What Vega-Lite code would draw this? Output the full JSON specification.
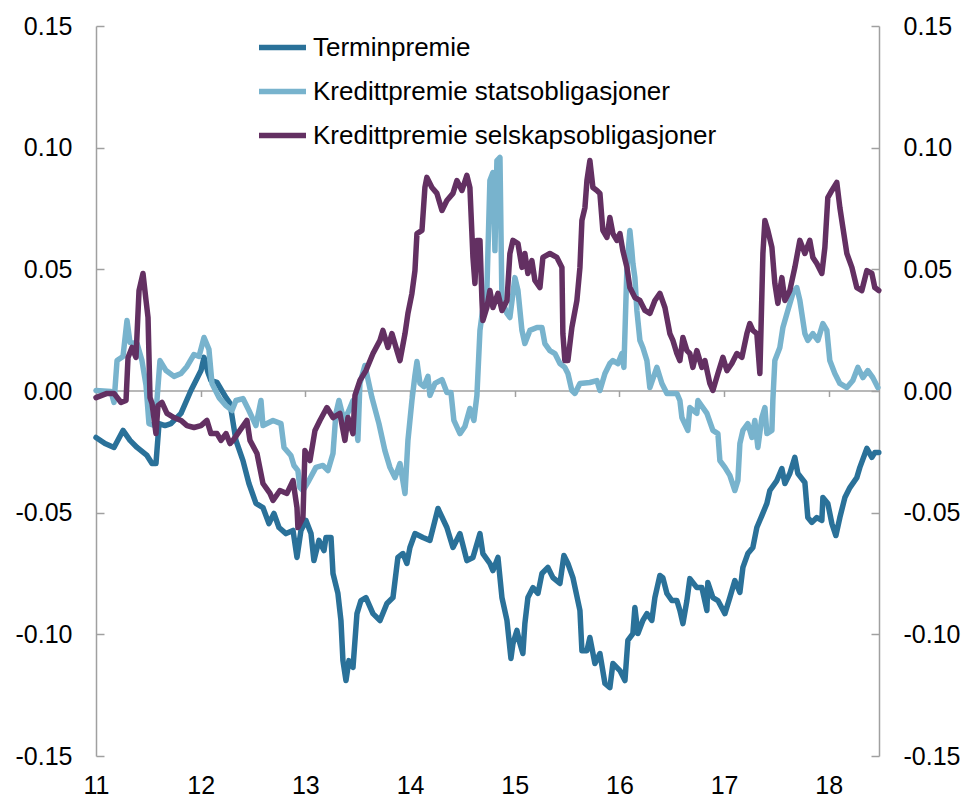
{
  "$schema": "https://vega.github.io/schema/vega-lite/v6.json",
  "width": 783,
  "height": 730,
  "autosize": {"type": "none"},
  "padding": {"left": 96, "top": 26, "right": 89, "bottom": 42},
  "background": "white",
  "config": {
    "font": "Liberation Sans",
    "view": {"stroke": null},
    "locale": {"number": {"decimal": ".", "thousands": ",", "grouping": [3], "currency": ["", ""], "minus": "-"}},
    "axis": {"grid": false, "labelFont": "Liberation Sans", "labelFontSize": 25, "labelColor": "#000000", "domainColor": "#a0a0a0", "tickColor": "#a0a0a0", "domainWidth": 1.5, "tickWidth": 1.5, "title": null},
    "legend": {"rowPadding": 4}
  },
  "data": {"values": [
    {"serie":"Terminpremie","t":11.000,"v":-0.0191},
    {"serie":"Terminpremie","t":11.086,"v":-0.0216},
    {"serie":"Terminpremie","t":11.172,"v":-0.0232},
    {"serie":"Terminpremie","t":11.258,"v":-0.0162},
    {"serie":"Terminpremie","t":11.325,"v":-0.0203},
    {"serie":"Terminpremie","t":11.392,"v":-0.0232},
    {"serie":"Terminpremie","t":11.487,"v":-0.0265},
    {"serie":"Terminpremie","t":11.535,"v":-0.0298},
    {"serie":"Terminpremie","t":11.573,"v":-0.0298},
    {"serie":"Terminpremie","t":11.602,"v":-0.0134},
    {"serie":"Terminpremie","t":11.659,"v":-0.0142},
    {"serie":"Terminpremie","t":11.716,"v":-0.0134},
    {"serie":"Terminpremie","t":11.812,"v":-0.0092},
    {"serie":"Terminpremie","t":11.907,"v":0.0002},
    {"serie":"Terminpremie","t":12.003,"v":0.0084},
    {"serie":"Terminpremie","t":12.032,"v":0.0138},
    {"serie":"Terminpremie","t":12.070,"v":0.0076},
    {"serie":"Terminpremie","t":12.098,"v":0.0043},
    {"serie":"Terminpremie","t":12.156,"v":0.0035},
    {"serie":"Terminpremie","t":12.242,"v":-0.0027},
    {"serie":"Terminpremie","t":12.280,"v":-0.0051},
    {"serie":"Terminpremie","t":12.337,"v":-0.0203},
    {"serie":"Terminpremie","t":12.404,"v":-0.0286},
    {"serie":"Terminpremie","t":12.461,"v":-0.0380},
    {"serie":"Terminpremie","t":12.528,"v":-0.0462},
    {"serie":"Terminpremie","t":12.595,"v":-0.0479},
    {"serie":"Terminpremie","t":12.652,"v":-0.0545},
    {"serie":"Terminpremie","t":12.700,"v":-0.0503},
    {"serie":"Terminpremie","t":12.748,"v":-0.0561},
    {"serie":"Terminpremie","t":12.815,"v":-0.0586},
    {"serie":"Terminpremie","t":12.882,"v":-0.0573},
    {"serie":"Terminpremie","t":12.920,"v":-0.0684},
    {"serie":"Terminpremie","t":12.958,"v":-0.0573},
    {"serie":"Terminpremie","t":13.006,"v":-0.0532},
    {"serie":"Terminpremie","t":13.054,"v":-0.0586},
    {"serie":"Terminpremie","t":13.082,"v":-0.0697},
    {"serie":"Terminpremie","t":13.130,"v":-0.0614},
    {"serie":"Terminpremie","t":13.178,"v":-0.0656},
    {"serie":"Terminpremie","t":13.197,"v":-0.0602},
    {"serie":"Terminpremie","t":13.245,"v":-0.0602},
    {"serie":"Terminpremie","t":13.264,"v":-0.0750},
    {"serie":"Terminpremie","t":13.311,"v":-0.0832},
    {"serie":"Terminpremie","t":13.340,"v":-0.0943},
    {"serie":"Terminpremie","t":13.359,"v":-0.1108},
    {"serie":"Terminpremie","t":13.388,"v":-0.1190},
    {"serie":"Terminpremie","t":13.416,"v":-0.1108},
    {"serie":"Terminpremie","t":13.455,"v":-0.1136},
    {"serie":"Terminpremie","t":13.493,"v":-0.0915},
    {"serie":"Terminpremie","t":13.531,"v":-0.0861},
    {"serie":"Terminpremie","t":13.579,"v":-0.0849},
    {"serie":"Terminpremie","t":13.646,"v":-0.0915},
    {"serie":"Terminpremie","t":13.713,"v":-0.0943},
    {"serie":"Terminpremie","t":13.779,"v":-0.0873},
    {"serie":"Terminpremie","t":13.837,"v":-0.0849},
    {"serie":"Terminpremie","t":13.884,"v":-0.0684},
    {"serie":"Terminpremie","t":13.932,"v":-0.0668},
    {"serie":"Terminpremie","t":13.970,"v":-0.0709},
    {"serie":"Terminpremie","t":13.999,"v":-0.0643},
    {"serie":"Terminpremie","t":14.047,"v":-0.0586},
    {"serie":"Terminpremie","t":14.123,"v":-0.0602},
    {"serie":"Terminpremie","t":14.190,"v":-0.0614},
    {"serie":"Terminpremie","t":14.267,"v":-0.0483},
    {"serie":"Terminpremie","t":14.352,"v":-0.0561},
    {"serie":"Terminpremie","t":14.410,"v":-0.0643},
    {"serie":"Terminpremie","t":14.477,"v":-0.0586},
    {"serie":"Terminpremie","t":14.543,"v":-0.0697},
    {"serie":"Terminpremie","t":14.601,"v":-0.0684},
    {"serie":"Terminpremie","t":14.668,"v":-0.0586},
    {"serie":"Terminpremie","t":14.696,"v":-0.0668},
    {"serie":"Terminpremie","t":14.763,"v":-0.0709},
    {"serie":"Terminpremie","t":14.792,"v":-0.0738},
    {"serie":"Terminpremie","t":14.840,"v":-0.0684},
    {"serie":"Terminpremie","t":14.878,"v":-0.0849},
    {"serie":"Terminpremie","t":14.926,"v":-0.0943},
    {"serie":"Terminpremie","t":14.964,"v":-0.1099},
    {"serie":"Terminpremie","t":14.983,"v":-0.1038},
    {"serie":"Terminpremie","t":15.021,"v":-0.0984},
    {"serie":"Terminpremie","t":15.050,"v":-0.1038},
    {"serie":"Terminpremie","t":15.078,"v":-0.1079},
    {"serie":"Terminpremie","t":15.097,"v":-0.0956},
    {"serie":"Terminpremie","t":15.126,"v":-0.0849},
    {"serie":"Terminpremie","t":15.174,"v":-0.0808},
    {"serie":"Terminpremie","t":15.222,"v":-0.0832},
    {"serie":"Terminpremie","t":15.260,"v":-0.0750},
    {"serie":"Terminpremie","t":15.317,"v":-0.0725},
    {"serie":"Terminpremie","t":15.365,"v":-0.0767},
    {"serie":"Terminpremie","t":15.432,"v":-0.0791},
    {"serie":"Terminpremie","t":15.470,"v":-0.0676},
    {"serie":"Terminpremie","t":15.508,"v":-0.0709},
    {"serie":"Terminpremie","t":15.556,"v":-0.0767},
    {"serie":"Terminpremie","t":15.623,"v":-0.0902},
    {"serie":"Terminpremie","t":15.642,"v":-0.1067},
    {"serie":"Terminpremie","t":15.690,"v":-0.1067},
    {"serie":"Terminpremie","t":15.718,"v":-0.1013},
    {"serie":"Terminpremie","t":15.766,"v":-0.1120},
    {"serie":"Terminpremie","t":15.814,"v":-0.1079},
    {"serie":"Terminpremie","t":15.862,"v":-0.1202},
    {"serie":"Terminpremie","t":15.909,"v":-0.1219},
    {"serie":"Terminpremie","t":15.938,"v":-0.1120},
    {"serie":"Terminpremie","t":16.005,"v":-0.1149},
    {"serie":"Terminpremie","t":16.053,"v":-0.1190},
    {"serie":"Terminpremie","t":16.081,"v":-0.1025},
    {"serie":"Terminpremie","t":16.129,"v":-0.0997},
    {"serie":"Terminpremie","t":16.148,"v":-0.0890},
    {"serie":"Terminpremie","t":16.177,"v":-0.0997},
    {"serie":"Terminpremie","t":16.224,"v":-0.0943},
    {"serie":"Terminpremie","t":16.263,"v":-0.0915},
    {"serie":"Terminpremie","t":16.310,"v":-0.0943},
    {"serie":"Terminpremie","t":16.339,"v":-0.0849},
    {"serie":"Terminpremie","t":16.387,"v":-0.0758},
    {"serie":"Terminpremie","t":16.415,"v":-0.0767},
    {"serie":"Terminpremie","t":16.454,"v":-0.0832},
    {"serie":"Terminpremie","t":16.501,"v":-0.0861},
    {"serie":"Terminpremie","t":16.549,"v":-0.0861},
    {"serie":"Terminpremie","t":16.578,"v":-0.0902},
    {"serie":"Terminpremie","t":16.607,"v":-0.0956},
    {"serie":"Terminpremie","t":16.645,"v":-0.0861},
    {"serie":"Terminpremie","t":16.673,"v":-0.0771},
    {"serie":"Terminpremie","t":16.740,"v":-0.0808},
    {"serie":"Terminpremie","t":16.788,"v":-0.0808},
    {"serie":"Terminpremie","t":16.836,"v":-0.0902},
    {"serie":"Terminpremie","t":16.845,"v":-0.0787},
    {"serie":"Terminpremie","t":16.893,"v":-0.0849},
    {"serie":"Terminpremie","t":16.941,"v":-0.0861},
    {"serie":"Terminpremie","t":17.008,"v":-0.0915},
    {"serie":"Terminpremie","t":17.055,"v":-0.0849},
    {"serie":"Terminpremie","t":17.103,"v":-0.0779},
    {"serie":"Terminpremie","t":17.151,"v":-0.0828},
    {"serie":"Terminpremie","t":17.180,"v":-0.0725},
    {"serie":"Terminpremie","t":17.227,"v":-0.0668},
    {"serie":"Terminpremie","t":17.275,"v":-0.0643},
    {"serie":"Terminpremie","t":17.313,"v":-0.0561},
    {"serie":"Terminpremie","t":17.361,"v":-0.0512},
    {"serie":"Terminpremie","t":17.409,"v":-0.0462},
    {"serie":"Terminpremie","t":17.437,"v":-0.0409},
    {"serie":"Terminpremie","t":17.504,"v":-0.0368},
    {"serie":"Terminpremie","t":17.552,"v":-0.0319},
    {"serie":"Terminpremie","t":17.581,"v":-0.0380},
    {"serie":"Terminpremie","t":17.628,"v":-0.0339},
    {"serie":"Terminpremie","t":17.676,"v":-0.0273},
    {"serie":"Terminpremie","t":17.705,"v":-0.0339},
    {"serie":"Terminpremie","t":17.772,"v":-0.0376},
    {"serie":"Terminpremie","t":17.800,"v":-0.0520},
    {"serie":"Terminpremie","t":17.839,"v":-0.0540},
    {"serie":"Terminpremie","t":17.886,"v":-0.0520},
    {"serie":"Terminpremie","t":17.934,"v":-0.0532},
    {"serie":"Terminpremie","t":17.944,"v":-0.0438},
    {"serie":"Terminpremie","t":17.991,"v":-0.0462},
    {"serie":"Terminpremie","t":18.030,"v":-0.0545},
    {"serie":"Terminpremie","t":18.068,"v":-0.0594},
    {"serie":"Terminpremie","t":18.106,"v":-0.0520},
    {"serie":"Terminpremie","t":18.154,"v":-0.0438},
    {"serie":"Terminpremie","t":18.202,"v":-0.0397},
    {"serie":"Terminpremie","t":18.268,"v":-0.0356},
    {"serie":"Terminpremie","t":18.297,"v":-0.0314},
    {"serie":"Terminpremie","t":18.364,"v":-0.0236},
    {"serie":"Terminpremie","t":18.412,"v":-0.0273},
    {"serie":"Terminpremie","t":18.440,"v":-0.0253},
    {"serie":"Terminpremie","t":18.478,"v":-0.0253},

    {"serie":"Kredittpremie statsobligasjoner","t":11.000,"v":0.0002},
    {"serie":"Kredittpremie statsobligasjoner","t":11.143,"v":-0.0002},
    {"serie":"Kredittpremie statsobligasjoner","t":11.172,"v":-0.0047},
    {"serie":"Kredittpremie statsobligasjoner","t":11.201,"v":0.0125},
    {"serie":"Kredittpremie statsobligasjoner","t":11.258,"v":0.0142},
    {"serie":"Kredittpremie statsobligasjoner","t":11.296,"v":0.0290},
    {"serie":"Kredittpremie statsobligasjoner","t":11.325,"v":0.0199},
    {"serie":"Kredittpremie statsobligasjoner","t":11.392,"v":0.0195},
    {"serie":"Kredittpremie statsobligasjoner","t":11.439,"v":0.0125},
    {"serie":"Kredittpremie statsobligasjoner","t":11.478,"v":0.0023},
    {"serie":"Kredittpremie statsobligasjoner","t":11.506,"v":-0.0134},
    {"serie":"Kredittpremie statsobligasjoner","t":11.564,"v":-0.0142},
    {"serie":"Kredittpremie statsobligasjoner","t":11.611,"v":0.0125},
    {"serie":"Kredittpremie statsobligasjoner","t":11.669,"v":0.0084},
    {"serie":"Kredittpremie statsobligasjoner","t":11.745,"v":0.0060},
    {"serie":"Kredittpremie statsobligasjoner","t":11.812,"v":0.0072},
    {"serie":"Kredittpremie statsobligasjoner","t":11.869,"v":0.0101},
    {"serie":"Kredittpremie statsobligasjoner","t":11.936,"v":0.0150},
    {"serie":"Kredittpremie statsobligasjoner","t":11.984,"v":0.0142},
    {"serie":"Kredittpremie statsobligasjoner","t":12.032,"v":0.0220},
    {"serie":"Kredittpremie statsobligasjoner","t":12.079,"v":0.0171},
    {"serie":"Kredittpremie statsobligasjoner","t":12.108,"v":0.0031},
    {"serie":"Kredittpremie statsobligasjoner","t":12.175,"v":-0.0027},
    {"serie":"Kredittpremie statsobligasjoner","t":12.242,"v":-0.0060},
    {"serie":"Kredittpremie statsobligasjoner","t":12.299,"v":-0.0080},
    {"serie":"Kredittpremie statsobligasjoner","t":12.337,"v":-0.0039},
    {"serie":"Kredittpremie statsobligasjoner","t":12.404,"v":-0.0031},
    {"serie":"Kredittpremie statsobligasjoner","t":12.461,"v":-0.0080},
    {"serie":"Kredittpremie statsobligasjoner","t":12.528,"v":-0.0142},
    {"serie":"Kredittpremie statsobligasjoner","t":12.576,"v":-0.0039},
    {"serie":"Kredittpremie statsobligasjoner","t":12.595,"v":-0.0142},
    {"serie":"Kredittpremie statsobligasjoner","t":12.691,"v":-0.0121},
    {"serie":"Kredittpremie statsobligasjoner","t":12.767,"v":-0.0134},
    {"serie":"Kredittpremie statsobligasjoner","t":12.796,"v":-0.0232},
    {"serie":"Kredittpremie statsobligasjoner","t":12.862,"v":-0.0265},
    {"serie":"Kredittpremie statsobligasjoner","t":12.891,"v":-0.0306},
    {"serie":"Kredittpremie statsobligasjoner","t":12.929,"v":-0.0327},
    {"serie":"Kredittpremie statsobligasjoner","t":12.948,"v":-0.0397},
    {"serie":"Kredittpremie statsobligasjoner","t":12.977,"v":-0.0409},
    {"serie":"Kredittpremie statsobligasjoner","t":13.034,"v":-0.0368},
    {"serie":"Kredittpremie statsobligasjoner","t":13.101,"v":-0.0314},
    {"serie":"Kredittpremie statsobligasjoner","t":13.168,"v":-0.0306},
    {"serie":"Kredittpremie statsobligasjoner","t":13.216,"v":-0.0327},
    {"serie":"Kredittpremie statsobligasjoner","t":13.264,"v":-0.0257},
    {"serie":"Kredittpremie statsobligasjoner","t":13.292,"v":-0.0092},
    {"serie":"Kredittpremie statsobligasjoner","t":13.321,"v":-0.0039},
    {"serie":"Kredittpremie statsobligasjoner","t":13.369,"v":-0.0121},
    {"serie":"Kredittpremie statsobligasjoner","t":13.416,"v":-0.0080},
    {"serie":"Kredittpremie statsobligasjoner","t":13.455,"v":-0.0039},
    {"serie":"Kredittpremie statsobligasjoner","t":13.502,"v":-0.0203},
    {"serie":"Kredittpremie statsobligasjoner","t":13.521,"v":0.0031},
    {"serie":"Kredittpremie statsobligasjoner","t":13.569,"v":0.0105},
    {"serie":"Kredittpremie statsobligasjoner","t":13.636,"v":-0.0027},
    {"serie":"Kredittpremie statsobligasjoner","t":13.703,"v":-0.0134},
    {"serie":"Kredittpremie statsobligasjoner","t":13.760,"v":-0.0245},
    {"serie":"Kredittpremie statsobligasjoner","t":13.808,"v":-0.0314},
    {"serie":"Kredittpremie statsobligasjoner","t":13.856,"v":-0.0356},
    {"serie":"Kredittpremie statsobligasjoner","t":13.904,"v":-0.0298},
    {"serie":"Kredittpremie statsobligasjoner","t":13.952,"v":-0.0421},
    {"serie":"Kredittpremie statsobligasjoner","t":13.980,"v":-0.0203},
    {"serie":"Kredittpremie statsobligasjoner","t":14.018,"v":-0.0039},
    {"serie":"Kredittpremie statsobligasjoner","t":14.047,"v":0.0064},
    {"serie":"Kredittpremie statsobligasjoner","t":14.066,"v":0.0121},
    {"serie":"Kredittpremie statsobligasjoner","t":14.095,"v":0.0031},
    {"serie":"Kredittpremie statsobligasjoner","t":14.133,"v":0.0018},
    {"serie":"Kredittpremie statsobligasjoner","t":14.171,"v":0.0060},
    {"serie":"Kredittpremie statsobligasjoner","t":14.190,"v":-0.0018},
    {"serie":"Kredittpremie statsobligasjoner","t":14.238,"v":0.0031},
    {"serie":"Kredittpremie statsobligasjoner","t":14.305,"v":0.0047},
    {"serie":"Kredittpremie statsobligasjoner","t":14.352,"v":-0.0006},
    {"serie":"Kredittpremie statsobligasjoner","t":14.391,"v":-0.0006},
    {"serie":"Kredittpremie statsobligasjoner","t":14.419,"v":-0.0121},
    {"serie":"Kredittpremie statsobligasjoner","t":14.477,"v":-0.0175},
    {"serie":"Kredittpremie statsobligasjoner","t":14.524,"v":-0.0146},
    {"serie":"Kredittpremie statsobligasjoner","t":14.572,"v":-0.0072},
    {"serie":"Kredittpremie statsobligasjoner","t":14.610,"v":-0.0121},
    {"serie":"Kredittpremie statsobligasjoner","t":14.639,"v":-0.0018},
    {"serie":"Kredittpremie statsobligasjoner","t":14.668,"v":0.0249},
    {"serie":"Kredittpremie statsobligasjoner","t":14.706,"v":0.0372},
    {"serie":"Kredittpremie statsobligasjoner","t":14.734,"v":0.0413},
    {"serie":"Kredittpremie statsobligasjoner","t":14.763,"v":0.0865},
    {"serie":"Kredittpremie statsobligasjoner","t":14.792,"v":0.0898},
    {"serie":"Kredittpremie statsobligasjoner","t":14.811,"v":0.0577},
    {"serie":"Kredittpremie statsobligasjoner","t":14.830,"v":0.0947},
    {"serie":"Kredittpremie statsobligasjoner","t":14.859,"v":0.0960},
    {"serie":"Kredittpremie statsobligasjoner","t":14.878,"v":0.0372},
    {"serie":"Kredittpremie statsobligasjoner","t":14.926,"v":0.0319},
    {"serie":"Kredittpremie statsobligasjoner","t":14.954,"v":0.0302},
    {"serie":"Kredittpremie statsobligasjoner","t":14.983,"v":0.0401},
    {"serie":"Kredittpremie statsobligasjoner","t":15.002,"v":0.0466},
    {"serie":"Kredittpremie statsobligasjoner","t":15.031,"v":0.0413},
    {"serie":"Kredittpremie statsobligasjoner","t":15.069,"v":0.0249},
    {"serie":"Kredittpremie statsobligasjoner","t":15.097,"v":0.0195},
    {"serie":"Kredittpremie statsobligasjoner","t":15.145,"v":0.0249},
    {"serie":"Kredittpremie statsobligasjoner","t":15.212,"v":0.0261},
    {"serie":"Kredittpremie statsobligasjoner","t":15.260,"v":0.0261},
    {"serie":"Kredittpremie statsobligasjoner","t":15.288,"v":0.0195},
    {"serie":"Kredittpremie statsobligasjoner","t":15.336,"v":0.0166},
    {"serie":"Kredittpremie statsobligasjoner","t":15.384,"v":0.0154},
    {"serie":"Kredittpremie statsobligasjoner","t":15.432,"v":0.0113},
    {"serie":"Kredittpremie statsobligasjoner","t":15.479,"v":0.0097},
    {"serie":"Kredittpremie statsobligasjoner","t":15.508,"v":0.0072},
    {"serie":"Kredittpremie statsobligasjoner","t":15.546,"v":0.0002},
    {"serie":"Kredittpremie statsobligasjoner","t":15.575,"v":-0.0010},
    {"serie":"Kredittpremie statsobligasjoner","t":15.623,"v":0.0031},
    {"serie":"Kredittpremie statsobligasjoner","t":15.718,"v":0.0035},
    {"serie":"Kredittpremie statsobligasjoner","t":15.785,"v":0.0043},
    {"serie":"Kredittpremie statsobligasjoner","t":15.814,"v":0.0002},
    {"serie":"Kredittpremie statsobligasjoner","t":15.862,"v":0.0072},
    {"serie":"Kredittpremie statsobligasjoner","t":15.909,"v":0.0113},
    {"serie":"Kredittpremie statsobligasjoner","t":15.938,"v":0.0125},
    {"serie":"Kredittpremie statsobligasjoner","t":15.986,"v":0.0113},
    {"serie":"Kredittpremie statsobligasjoner","t":16.024,"v":0.0154},
    {"serie":"Kredittpremie statsobligasjoner","t":16.043,"v":0.0097},
    {"serie":"Kredittpremie statsobligasjoner","t":16.072,"v":0.0508},
    {"serie":"Kredittpremie statsobligasjoner","t":16.100,"v":0.0660},
    {"serie":"Kredittpremie statsobligasjoner","t":16.119,"v":0.0577},
    {"serie":"Kredittpremie statsobligasjoner","t":16.129,"v":0.0524},
    {"serie":"Kredittpremie statsobligasjoner","t":16.148,"v":0.0466},
    {"serie":"Kredittpremie statsobligasjoner","t":16.167,"v":0.0331},
    {"serie":"Kredittpremie statsobligasjoner","t":16.196,"v":0.0208},
    {"serie":"Kredittpremie statsobligasjoner","t":16.224,"v":0.0179},
    {"serie":"Kredittpremie statsobligasjoner","t":16.263,"v":0.0125},
    {"serie":"Kredittpremie statsobligasjoner","t":16.291,"v":0.0014},
    {"serie":"Kredittpremie statsobligasjoner","t":16.358,"v":0.0097},
    {"serie":"Kredittpremie statsobligasjoner","t":16.406,"v":0.0031},
    {"serie":"Kredittpremie statsobligasjoner","t":16.454,"v":-0.0010},
    {"serie":"Kredittpremie statsobligasjoner","t":16.549,"v":-0.0010},
    {"serie":"Kredittpremie statsobligasjoner","t":16.578,"v":-0.0039},
    {"serie":"Kredittpremie statsobligasjoner","t":16.597,"v":-0.0109},
    {"serie":"Kredittpremie statsobligasjoner","t":16.654,"v":-0.0162},
    {"serie":"Kredittpremie statsobligasjoner","t":16.673,"v":-0.0068},
    {"serie":"Kredittpremie statsobligasjoner","t":16.740,"v":-0.0092},
    {"serie":"Kredittpremie statsobligasjoner","t":16.750,"v":-0.0039},
    {"serie":"Kredittpremie statsobligasjoner","t":16.836,"v":-0.0092},
    {"serie":"Kredittpremie statsobligasjoner","t":16.893,"v":-0.0162},
    {"serie":"Kredittpremie statsobligasjoner","t":16.941,"v":-0.0175},
    {"serie":"Kredittpremie statsobligasjoner","t":16.960,"v":-0.0286},
    {"serie":"Kredittpremie statsobligasjoner","t":17.008,"v":-0.0314},
    {"serie":"Kredittpremie statsobligasjoner","t":17.055,"v":-0.0347},
    {"serie":"Kredittpremie statsobligasjoner","t":17.103,"v":-0.0409},
    {"serie":"Kredittpremie statsobligasjoner","t":17.132,"v":-0.0368},
    {"serie":"Kredittpremie statsobligasjoner","t":17.151,"v":-0.0216},
    {"serie":"Kredittpremie statsobligasjoner","t":17.180,"v":-0.0162},
    {"serie":"Kredittpremie statsobligasjoner","t":17.227,"v":-0.0134},
    {"serie":"Kredittpremie statsobligasjoner","t":17.266,"v":-0.0191},
    {"serie":"Kredittpremie statsobligasjoner","t":17.294,"v":-0.0121},
    {"serie":"Kredittpremie statsobligasjoner","t":17.323,"v":-0.0232},
    {"serie":"Kredittpremie statsobligasjoner","t":17.361,"v":-0.0109},
    {"serie":"Kredittpremie statsobligasjoner","t":17.390,"v":-0.0068},
    {"serie":"Kredittpremie statsobligasjoner","t":17.409,"v":-0.0175},
    {"serie":"Kredittpremie statsobligasjoner","t":17.457,"v":-0.0162},
    {"serie":"Kredittpremie statsobligasjoner","t":17.466,"v":-0.0039},
    {"serie":"Kredittpremie statsobligasjoner","t":17.485,"v":0.0125},
    {"serie":"Kredittpremie statsobligasjoner","t":17.533,"v":0.0179},
    {"serie":"Kredittpremie statsobligasjoner","t":17.562,"v":0.0261},
    {"serie":"Kredittpremie statsobligasjoner","t":17.609,"v":0.0331},
    {"serie":"Kredittpremie statsobligasjoner","t":17.657,"v":0.0401},
    {"serie":"Kredittpremie statsobligasjoner","t":17.695,"v":0.0425},
    {"serie":"Kredittpremie statsobligasjoner","t":17.724,"v":0.0372},
    {"serie":"Kredittpremie statsobligasjoner","t":17.772,"v":0.0236},
    {"serie":"Kredittpremie statsobligasjoner","t":17.800,"v":0.0208},
    {"serie":"Kredittpremie statsobligasjoner","t":17.848,"v":0.0236},
    {"serie":"Kredittpremie statsobligasjoner","t":17.896,"v":0.0208},
    {"serie":"Kredittpremie statsobligasjoner","t":17.944,"v":0.0277},
    {"serie":"Kredittpremie statsobligasjoner","t":17.982,"v":0.0249},
    {"serie":"Kredittpremie statsobligasjoner","t":18.010,"v":0.0125},
    {"serie":"Kredittpremie statsobligasjoner","t":18.058,"v":0.0072},
    {"serie":"Kredittpremie statsobligasjoner","t":18.106,"v":0.0031},
    {"serie":"Kredittpremie statsobligasjoner","t":18.173,"v":0.0014},
    {"serie":"Kredittpremie statsobligasjoner","t":18.230,"v":0.0043},
    {"serie":"Kredittpremie statsobligasjoner","t":18.278,"v":0.0097},
    {"serie":"Kredittpremie statsobligasjoner","t":18.326,"v":0.0055},
    {"serie":"Kredittpremie statsobligasjoner","t":18.373,"v":0.0084},
    {"serie":"Kredittpremie statsobligasjoner","t":18.421,"v":0.0055},
    {"serie":"Kredittpremie statsobligasjoner","t":18.469,"v":0.0014},

    {"serie":"Kredittpremie selskapsobligasjoner","t":11.000,"v":-0.0027},
    {"serie":"Kredittpremie selskapsobligasjoner","t":11.105,"v":-0.0010},
    {"serie":"Kredittpremie selskapsobligasjoner","t":11.172,"v":-0.0010},
    {"serie":"Kredittpremie selskapsobligasjoner","t":11.239,"v":-0.0047},
    {"serie":"Kredittpremie selskapsobligasjoner","t":11.287,"v":-0.0039},
    {"serie":"Kredittpremie selskapsobligasjoner","t":11.306,"v":0.0138},
    {"serie":"Kredittpremie selskapsobligasjoner","t":11.344,"v":0.0179},
    {"serie":"Kredittpremie selskapsobligasjoner","t":11.382,"v":0.0138},
    {"serie":"Kredittpremie selskapsobligasjoner","t":11.411,"v":0.0413},
    {"serie":"Kredittpremie selskapsobligasjoner","t":11.449,"v":0.0483},
    {"serie":"Kredittpremie selskapsobligasjoner","t":11.478,"v":0.0372},
    {"serie":"Kredittpremie selskapsobligasjoner","t":11.497,"v":0.0302},
    {"serie":"Kredittpremie selskapsobligasjoner","t":11.516,"v":-0.0027},
    {"serie":"Kredittpremie selskapsobligasjoner","t":11.535,"v":-0.0051},
    {"serie":"Kredittpremie selskapsobligasjoner","t":11.573,"v":-0.0175},
    {"serie":"Kredittpremie selskapsobligasjoner","t":11.592,"v":-0.0060},
    {"serie":"Kredittpremie selskapsobligasjoner","t":11.630,"v":-0.0047},
    {"serie":"Kredittpremie selskapsobligasjoner","t":11.678,"v":-0.0092},
    {"serie":"Kredittpremie selskapsobligasjoner","t":11.745,"v":-0.0109},
    {"serie":"Kredittpremie selskapsobligasjoner","t":11.812,"v":-0.0121},
    {"serie":"Kredittpremie selskapsobligasjoner","t":11.869,"v":-0.0142},
    {"serie":"Kredittpremie selskapsobligasjoner","t":11.936,"v":-0.0150},
    {"serie":"Kredittpremie selskapsobligasjoner","t":12.003,"v":-0.0142},
    {"serie":"Kredittpremie selskapsobligasjoner","t":12.060,"v":-0.0121},
    {"serie":"Kredittpremie selskapsobligasjoner","t":12.098,"v":-0.0175},
    {"serie":"Kredittpremie selskapsobligasjoner","t":12.156,"v":-0.0175},
    {"serie":"Kredittpremie selskapsobligasjoner","t":12.194,"v":-0.0203},
    {"serie":"Kredittpremie selskapsobligasjoner","t":12.242,"v":-0.0175},
    {"serie":"Kredittpremie selskapsobligasjoner","t":12.280,"v":-0.0216},
    {"serie":"Kredittpremie selskapsobligasjoner","t":12.309,"v":-0.0203},
    {"serie":"Kredittpremie selskapsobligasjoner","t":12.375,"v":-0.0162},
    {"serie":"Kredittpremie selskapsobligasjoner","t":12.442,"v":-0.0121},
    {"serie":"Kredittpremie selskapsobligasjoner","t":12.471,"v":-0.0203},
    {"serie":"Kredittpremie selskapsobligasjoner","t":12.538,"v":-0.0257},
    {"serie":"Kredittpremie selskapsobligasjoner","t":12.595,"v":-0.0380},
    {"serie":"Kredittpremie selskapsobligasjoner","t":12.662,"v":-0.0421},
    {"serie":"Kredittpremie selskapsobligasjoner","t":12.691,"v":-0.0450},
    {"serie":"Kredittpremie selskapsobligasjoner","t":12.757,"v":-0.0409},
    {"serie":"Kredittpremie selskapsobligasjoner","t":12.824,"v":-0.0421},
    {"serie":"Kredittpremie selskapsobligasjoner","t":12.882,"v":-0.0368},
    {"serie":"Kredittpremie selskapsobligasjoner","t":12.920,"v":-0.0479},
    {"serie":"Kredittpremie selskapsobligasjoner","t":12.929,"v":-0.0561},
    {"serie":"Kredittpremie selskapsobligasjoner","t":12.977,"v":-0.0520},
    {"serie":"Kredittpremie selskapsobligasjoner","t":12.996,"v":-0.0245},
    {"serie":"Kredittpremie selskapsobligasjoner","t":13.044,"v":-0.0286},
    {"serie":"Kredittpremie selskapsobligasjoner","t":13.092,"v":-0.0162},
    {"serie":"Kredittpremie selskapsobligasjoner","t":13.139,"v":-0.0121},
    {"serie":"Kredittpremie selskapsobligasjoner","t":13.206,"v":-0.0068},
    {"serie":"Kredittpremie selskapsobligasjoner","t":13.264,"v":-0.0109},
    {"serie":"Kredittpremie selskapsobligasjoner","t":13.330,"v":-0.0092},
    {"serie":"Kredittpremie selskapsobligasjoner","t":13.378,"v":-0.0203},
    {"serie":"Kredittpremie selskapsobligasjoner","t":13.407,"v":-0.0109},
    {"serie":"Kredittpremie selskapsobligasjoner","t":13.455,"v":-0.0175},
    {"serie":"Kredittpremie selskapsobligasjoner","t":13.474,"v":-0.0018},
    {"serie":"Kredittpremie selskapsobligasjoner","t":13.521,"v":0.0043},
    {"serie":"Kredittpremie selskapsobligasjoner","t":13.579,"v":0.0084},
    {"serie":"Kredittpremie selskapsobligasjoner","t":13.646,"v":0.0154},
    {"serie":"Kredittpremie selskapsobligasjoner","t":13.713,"v":0.0208},
    {"serie":"Kredittpremie selskapsobligasjoner","t":13.741,"v":0.0249},
    {"serie":"Kredittpremie selskapsobligasjoner","t":13.789,"v":0.0179},
    {"serie":"Kredittpremie selskapsobligasjoner","t":13.827,"v":0.0236},
    {"serie":"Kredittpremie selskapsobligasjoner","t":13.875,"v":0.0166},
    {"serie":"Kredittpremie selskapsobligasjoner","t":13.904,"v":0.0125},
    {"serie":"Kredittpremie selskapsobligasjoner","t":13.952,"v":0.0236},
    {"serie":"Kredittpremie selskapsobligasjoner","t":13.980,"v":0.0319},
    {"serie":"Kredittpremie selskapsobligasjoner","t":14.018,"v":0.0401},
    {"serie":"Kredittpremie selskapsobligasjoner","t":14.047,"v":0.0495},
    {"serie":"Kredittpremie selskapsobligasjoner","t":14.066,"v":0.0647},
    {"serie":"Kredittpremie selskapsobligasjoner","t":14.114,"v":0.0660},
    {"serie":"Kredittpremie selskapsobligasjoner","t":14.142,"v":0.0836},
    {"serie":"Kredittpremie selskapsobligasjoner","t":14.161,"v":0.0878},
    {"serie":"Kredittpremie selskapsobligasjoner","t":14.209,"v":0.0836},
    {"serie":"Kredittpremie selskapsobligasjoner","t":14.257,"v":0.0812},
    {"serie":"Kredittpremie selskapsobligasjoner","t":14.305,"v":0.0742},
    {"serie":"Kredittpremie selskapsobligasjoner","t":14.352,"v":0.0783},
    {"serie":"Kredittpremie selskapsobligasjoner","t":14.410,"v":0.0812},
    {"serie":"Kredittpremie selskapsobligasjoner","t":14.448,"v":0.0865},
    {"serie":"Kredittpremie selskapsobligasjoner","t":14.496,"v":0.0824},
    {"serie":"Kredittpremie selskapsobligasjoner","t":14.543,"v":0.0886},
    {"serie":"Kredittpremie selskapsobligasjoner","t":14.572,"v":0.0836},
    {"serie":"Kredittpremie selskapsobligasjoner","t":14.601,"v":0.0549},
    {"serie":"Kredittpremie selskapsobligasjoner","t":14.620,"v":0.0442},
    {"serie":"Kredittpremie selskapsobligasjoner","t":14.639,"v":0.0619},
    {"serie":"Kredittpremie selskapsobligasjoner","t":14.668,"v":0.0619},
    {"serie":"Kredittpremie selskapsobligasjoner","t":14.687,"v":0.0372},
    {"serie":"Kredittpremie selskapsobligasjoner","t":14.696,"v":0.0290},
    {"serie":"Kredittpremie selskapsobligasjoner","t":14.734,"v":0.0343},
    {"serie":"Kredittpremie selskapsobligasjoner","t":14.763,"v":0.0413},
    {"serie":"Kredittpremie selskapsobligasjoner","t":14.792,"v":0.0343},
    {"serie":"Kredittpremie selskapsobligasjoner","t":14.840,"v":0.0401},
    {"serie":"Kredittpremie selskapsobligasjoner","t":14.878,"v":0.0331},
    {"serie":"Kredittpremie selskapsobligasjoner","t":14.926,"v":0.0372},
    {"serie":"Kredittpremie selskapsobligasjoner","t":14.954,"v":0.0565},
    {"serie":"Kredittpremie selskapsobligasjoner","t":14.983,"v":0.0619},
    {"serie":"Kredittpremie selskapsobligasjoner","t":15.031,"v":0.0606},
    {"serie":"Kredittpremie selskapsobligasjoner","t":15.069,"v":0.0508},
    {"serie":"Kredittpremie selskapsobligasjoner","t":15.097,"v":0.0565},
    {"serie":"Kredittpremie selskapsobligasjoner","t":15.126,"v":0.0483},
    {"serie":"Kredittpremie selskapsobligasjoner","t":15.164,"v":0.0536},
    {"serie":"Kredittpremie selskapsobligasjoner","t":15.193,"v":0.0454},
    {"serie":"Kredittpremie selskapsobligasjoner","t":15.241,"v":0.0425},
    {"serie":"Kredittpremie selskapsobligasjoner","t":15.269,"v":0.0549},
    {"serie":"Kredittpremie selskapsobligasjoner","t":15.336,"v":0.0565},
    {"serie":"Kredittpremie selskapsobligasjoner","t":15.403,"v":0.0549},
    {"serie":"Kredittpremie selskapsobligasjoner","t":15.451,"v":0.0508},
    {"serie":"Kredittpremie selskapsobligasjoner","t":15.460,"v":0.0236},
    {"serie":"Kredittpremie selskapsobligasjoner","t":15.479,"v":0.0125},
    {"serie":"Kredittpremie selskapsobligasjoner","t":15.508,"v":0.0125},
    {"serie":"Kredittpremie selskapsobligasjoner","t":15.546,"v":0.0261},
    {"serie":"Kredittpremie selskapsobligasjoner","t":15.594,"v":0.0372},
    {"serie":"Kredittpremie selskapsobligasjoner","t":15.623,"v":0.0508},
    {"serie":"Kredittpremie selskapsobligasjoner","t":15.642,"v":0.0701},
    {"serie":"Kredittpremie selskapsobligasjoner","t":15.671,"v":0.0754},
    {"serie":"Kredittpremie selskapsobligasjoner","t":15.690,"v":0.0865},
    {"serie":"Kredittpremie selskapsobligasjoner","t":15.718,"v":0.0947},
    {"serie":"Kredittpremie selskapsobligasjoner","t":15.747,"v":0.0836},
    {"serie":"Kredittpremie selskapsobligasjoner","t":15.785,"v":0.0824},
    {"serie":"Kredittpremie selskapsobligasjoner","t":15.814,"v":0.0812},
    {"serie":"Kredittpremie selskapsobligasjoner","t":15.842,"v":0.0660},
    {"serie":"Kredittpremie selskapsobligasjoner","t":15.881,"v":0.0631},
    {"serie":"Kredittpremie selskapsobligasjoner","t":15.909,"v":0.0713},
    {"serie":"Kredittpremie selskapsobligasjoner","t":15.938,"v":0.0647},
    {"serie":"Kredittpremie selskapsobligasjoner","t":15.976,"v":0.0619},
    {"serie":"Kredittpremie selskapsobligasjoner","t":16.005,"v":0.0647},
    {"serie":"Kredittpremie selskapsobligasjoner","t":16.033,"v":0.0577},
    {"serie":"Kredittpremie selskapsobligasjoner","t":16.072,"v":0.0508},
    {"serie":"Kredittpremie selskapsobligasjoner","t":16.100,"v":0.0425},
    {"serie":"Kredittpremie selskapsobligasjoner","t":16.148,"v":0.0384},
    {"serie":"Kredittpremie selskapsobligasjoner","t":16.196,"v":0.0372},
    {"serie":"Kredittpremie selskapsobligasjoner","t":16.244,"v":0.0331},
    {"serie":"Kredittpremie selskapsobligasjoner","t":16.291,"v":0.0319},
    {"serie":"Kredittpremie selskapsobligasjoner","t":16.339,"v":0.0372},
    {"serie":"Kredittpremie selskapsobligasjoner","t":16.387,"v":0.0401},
    {"serie":"Kredittpremie selskapsobligasjoner","t":16.435,"v":0.0343},
    {"serie":"Kredittpremie selskapsobligasjoner","t":16.482,"v":0.0236},
    {"serie":"Kredittpremie selskapsobligasjoner","t":16.511,"v":0.0208},
    {"serie":"Kredittpremie selskapsobligasjoner","t":16.549,"v":0.0154},
    {"serie":"Kredittpremie selskapsobligasjoner","t":16.578,"v":0.0125},
    {"serie":"Kredittpremie selskapsobligasjoner","t":16.607,"v":0.0220},
    {"serie":"Kredittpremie selskapsobligasjoner","t":16.645,"v":0.0166},
    {"serie":"Kredittpremie selskapsobligasjoner","t":16.673,"v":0.0154},
    {"serie":"Kredittpremie selskapsobligasjoner","t":16.702,"v":0.0097},
    {"serie":"Kredittpremie selskapsobligasjoner","t":16.740,"v":0.0166},
    {"serie":"Kredittpremie selskapsobligasjoner","t":16.788,"v":0.0097},
    {"serie":"Kredittpremie selskapsobligasjoner","t":16.817,"v":0.0125},
    {"serie":"Kredittpremie selskapsobligasjoner","t":16.864,"v":0.0031},
    {"serie":"Kredittpremie selskapsobligasjoner","t":16.893,"v":0.0002},
    {"serie":"Kredittpremie selskapsobligasjoner","t":16.941,"v":0.0072},
    {"serie":"Kredittpremie selskapsobligasjoner","t":16.989,"v":0.0138},
    {"serie":"Kredittpremie selskapsobligasjoner","t":17.027,"v":0.0084},
    {"serie":"Kredittpremie selskapsobligasjoner","t":17.074,"v":0.0113},
    {"serie":"Kredittpremie selskapsobligasjoner","t":17.122,"v":0.0154},
    {"serie":"Kredittpremie selskapsobligasjoner","t":17.170,"v":0.0138},
    {"serie":"Kredittpremie selskapsobligasjoner","t":17.218,"v":0.0236},
    {"serie":"Kredittpremie selskapsobligasjoner","t":17.246,"v":0.0277},
    {"serie":"Kredittpremie selskapsobligasjoner","t":17.275,"v":0.0249},
    {"serie":"Kredittpremie selskapsobligasjoner","t":17.313,"v":0.0236},
    {"serie":"Kredittpremie selskapsobligasjoner","t":17.342,"v":0.0072},
    {"serie":"Kredittpremie selskapsobligasjoner","t":17.371,"v":0.0565},
    {"serie":"Kredittpremie selskapsobligasjoner","t":17.390,"v":0.0701},
    {"serie":"Kredittpremie selskapsobligasjoner","t":17.418,"v":0.0660},
    {"serie":"Kredittpremie selskapsobligasjoner","t":17.457,"v":0.0590},
    {"serie":"Kredittpremie selskapsobligasjoner","t":17.485,"v":0.0442},
    {"serie":"Kredittpremie selskapsobligasjoner","t":17.514,"v":0.0360},
    {"serie":"Kredittpremie selskapsobligasjoner","t":17.552,"v":0.0466},
    {"serie":"Kredittpremie selskapsobligasjoner","t":17.581,"v":0.0372},
    {"serie":"Kredittpremie selskapsobligasjoner","t":17.628,"v":0.0413},
    {"serie":"Kredittpremie selskapsobligasjoner","t":17.676,"v":0.0508},
    {"serie":"Kredittpremie selskapsobligasjoner","t":17.724,"v":0.0619},
    {"serie":"Kredittpremie selskapsobligasjoner","t":17.772,"v":0.0565},
    {"serie":"Kredittpremie selskapsobligasjoner","t":17.819,"v":0.0619},
    {"serie":"Kredittpremie selskapsobligasjoner","t":17.848,"v":0.0549},
    {"serie":"Kredittpremie selskapsobligasjoner","t":17.886,"v":0.0524},
    {"serie":"Kredittpremie selskapsobligasjoner","t":17.934,"v":0.0483},
    {"serie":"Kredittpremie selskapsobligasjoner","t":17.963,"v":0.0590},
    {"serie":"Kredittpremie selskapsobligasjoner","t":17.991,"v":0.0795},
    {"serie":"Kredittpremie selskapsobligasjoner","t":18.030,"v":0.0824},
    {"serie":"Kredittpremie selskapsobligasjoner","t":18.077,"v":0.0857},
    {"serie":"Kredittpremie selskapsobligasjoner","t":18.106,"v":0.0754},
    {"serie":"Kredittpremie selskapsobligasjoner","t":18.135,"v":0.0672},
    {"serie":"Kredittpremie selskapsobligasjoner","t":18.173,"v":0.0565},
    {"serie":"Kredittpremie selskapsobligasjoner","t":18.221,"v":0.0508},
    {"serie":"Kredittpremie selskapsobligasjoner","t":18.268,"v":0.0425},
    {"serie":"Kredittpremie selskapsobligasjoner","t":18.316,"v":0.0413},
    {"serie":"Kredittpremie selskapsobligasjoner","t":18.364,"v":0.0495},
    {"serie":"Kredittpremie selskapsobligasjoner","t":18.412,"v":0.0483},
    {"serie":"Kredittpremie selskapsobligasjoner","t":18.440,"v":0.0425},
    {"serie":"Kredittpremie selskapsobligasjoner","t":18.478,"v":0.0413}
  ]},
  "encoding": {
    "x": {
      "field": "t", "type": "quantitative",
      "scale": {"domain": [11, 18.48], "nice": false, "zero": false},
      "axis": {"orient": "bottom", "offset": -365.5, "values": [11, 12, 13, 14, 15, 16, 17, 18], "format": "d", "tickSize": 6, "labelPadding": 377, "labelFlush": false, "labelBound": false}
    },
    "color": {
      "field": "serie", "type": "nominal",
      "scale": {"domain": ["Terminpremie", "Kredittpremie statsobligasjoner", "Kredittpremie selskapsobligasjoner"], "range": ["#2A7199", "#78B3CD", "#633062"]},
      "legend": {"orient": "none", "legendX": 160, "legendY": -5, "title": null, "symbolType": "stroke", "symbolSize": 2209, "symbolStrokeWidth": 5.5, "labelFont": "Liberation Sans", "labelFontSize": 26, "labelColor": "#000000", "labelOffset": 4, "rowPadding": 4, "labelLimit": 600}
    }
  },
  "layer": [
    {
      "mark": {"type": "line", "strokeWidth": 5.5, "strokeJoin": "round", "strokeCap": "round"},
      "encoding": {
        "y": {"field": "v", "type": "quantitative", "scale": {"domain": [-0.15, 0.15], "nice": false}, "axis": {"orient": "left", "values": [-0.15, -0.1, -0.05, 0, 0.05, 0.1, 0.15], "format": ".2f", "tickSize": -8, "labelPadding": 32}}
      }
    },
    {
      "mark": {"type": "line", "opacity": 0},
      "encoding": {
        "y": {"field": "v", "type": "quantitative", "scale": {"domain": [-0.15, 0.15], "nice": false}, "axis": {"orient": "right", "values": [-0.15, -0.1, -0.05, 0, 0.05, 0.1, 0.15], "format": ".2f", "tickSize": -8, "labelPadding": 32}}
      }
    }
  ],
  "resolve": {"axis": {"y": "independent"}}
}
